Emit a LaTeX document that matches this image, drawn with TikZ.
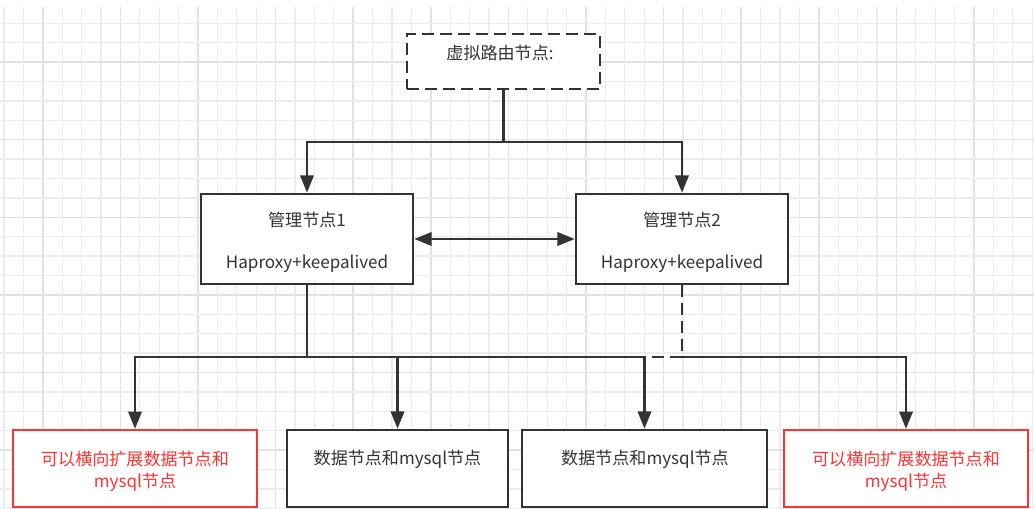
\documentclass[tikz,border=0pt]{standalone}
\usepackage{fontspec}
\setmainfont{Noto Sans CJK SC}
\usetikzlibrary{arrows.meta}
\definecolor{ink}{HTML}{333333}
\definecolor{redink}{HTML}{FF3333}
\definecolor{gridminor}{HTML}{ECECEC}
\definecolor{gridmajor}{HTML}{E2E2E2}
\tikzset{
  box/.style={draw=ink, line width=1.9pt, fill=white, rectangle, inner sep=0pt, text=ink, align=center},
  redbox/.style={draw=redink, line width=1.7pt, fill=white, rectangle, inner sep=0pt, text=redink, align=center},
  dashbox/.style={box, dash pattern=on 9pt off 4.5pt},
  wire/.style={draw=ink, line width=1.9pt},
  arrowwire/.style={wire, -{Triangle[length=13pt,width=10pt]}},
  twoway/.style={wire, {Triangle[length=13pt,width=10pt]}-{Triangle[length=13pt,width=10pt]}},
  dashwire/.style={wire, dash pattern=on 9pt off 4.5pt},
  txt/.style={text=ink, inner sep=0pt},
  mgmttext/.style={text=ink, align=center, inner sep=0pt, yshift=-2.2pt, font=\fontsize{12.8}{31.5}\selectfont},
  redtext/.style={text=redink, align=center, inner sep=0pt, yshift=-1.9pt, font=\fontsize{12.8}{16.5}\selectfont}
}
\begin{document}
\begin{tikzpicture}[x=0.75pt,y=-0.75pt, font=\fontsize{12.8}{16.5}\selectfont]
\useasboundingbox (0,0) rectangle (1034,509);
\fill[white] (0,0) rectangle (1034,509);
% grid
\foreach \i in {0,...,53} {
  \pgfmathsetmacro{\gx}{4+19.4*\i}
  \pgfmathtruncatemacro{\m}{mod(\i+2,4)}
  \ifnum\m=0
    \draw[gridmajor, line width=1.1pt] (\gx,7) -- (\gx,509);
  \else
    \draw[gridminor, line width=1pt] (\gx,7) -- (\gx,509);
  \fi
}
\foreach \j in {1,...,26} {
  \pgfmathsetmacro{\gy}{3.9+19.4*\j}
  \pgfmathtruncatemacro{\m}{mod(\j+1,4)}
  \ifnum\m=0
    \draw[gridmajor, line width=1.1pt] (0,\gy) -- (1034,\gy);
  \else
    \draw[gridminor, line width=1pt] (0,\gy) -- (1034,\gy);
  \fi
}
% nodes
\node[dashbox, minimum width=193*0.75pt, minimum height=55*0.75pt] (v) at (503.5,61.5) {};
\node[txt] (vt) at (500,53) {虚拟路由节点:};
\node[box, minimum width=212*0.75pt, minimum height=90*0.75pt,
      label={[mgmttext]center:管理节点1\\Haproxy+keepalived}] (m1) at (307,239) {};
\node[box, minimum width=212*0.75pt, minimum height=90*0.75pt,
      label={[mgmttext]center:管理节点2\\Haproxy+keepalived}] (m2) at (682,239) {};
\node[redbox, minimum width=244*0.75pt, minimum height=77*0.75pt,
      label={[redtext]center:可以横向扩展数据节点和\\mysql节点}] (d1) at (135,468.5) {};
\node[box, minimum width=221*0.75pt, minimum height=77*0.75pt] (d2) at (397.5,468.5) {};
\node[txt] (d2t) at (397.5,459) {数据节点和mysql节点};
\node[box, minimum width=245*0.75pt, minimum height=77*0.75pt] (d3) at (644.5,468.5) {};
\node[txt] (d3t) at (645,459) {数据节点和mysql节点};
\node[redbox, minimum width=244*0.75pt, minimum height=77*0.75pt,
      label={[redtext]center:可以横向扩展数据节点和\\mysql节点}] (d4) at (906,468.5) {};
% connectors
\coordinate (j1) at (503.5,142);
\draw[wire] (v.south) -- (j1);
\draw[arrowwire] (j1) -| (m1.north);
\draw[arrowwire] (j1) -| (m2.north);
\draw[twoway] (m1.east) -- (m2.west);
\coordinate (b1) at (307,357);
\coordinate (b2) at (682,357);
\draw[dashwire] (m2.south) -- (b2) -- (b2 -| d3.north);
\draw[wire] (m1.south) -- (b1);
\draw[arrowwire] (b1) -| (d1.north);
\draw[arrowwire] (b1) -| (d2.north);
\draw[arrowwire] (b1) -| (d3.north);
\draw[arrowwire] (b2) -| (d4.north);
\end{tikzpicture}
\end{document}
